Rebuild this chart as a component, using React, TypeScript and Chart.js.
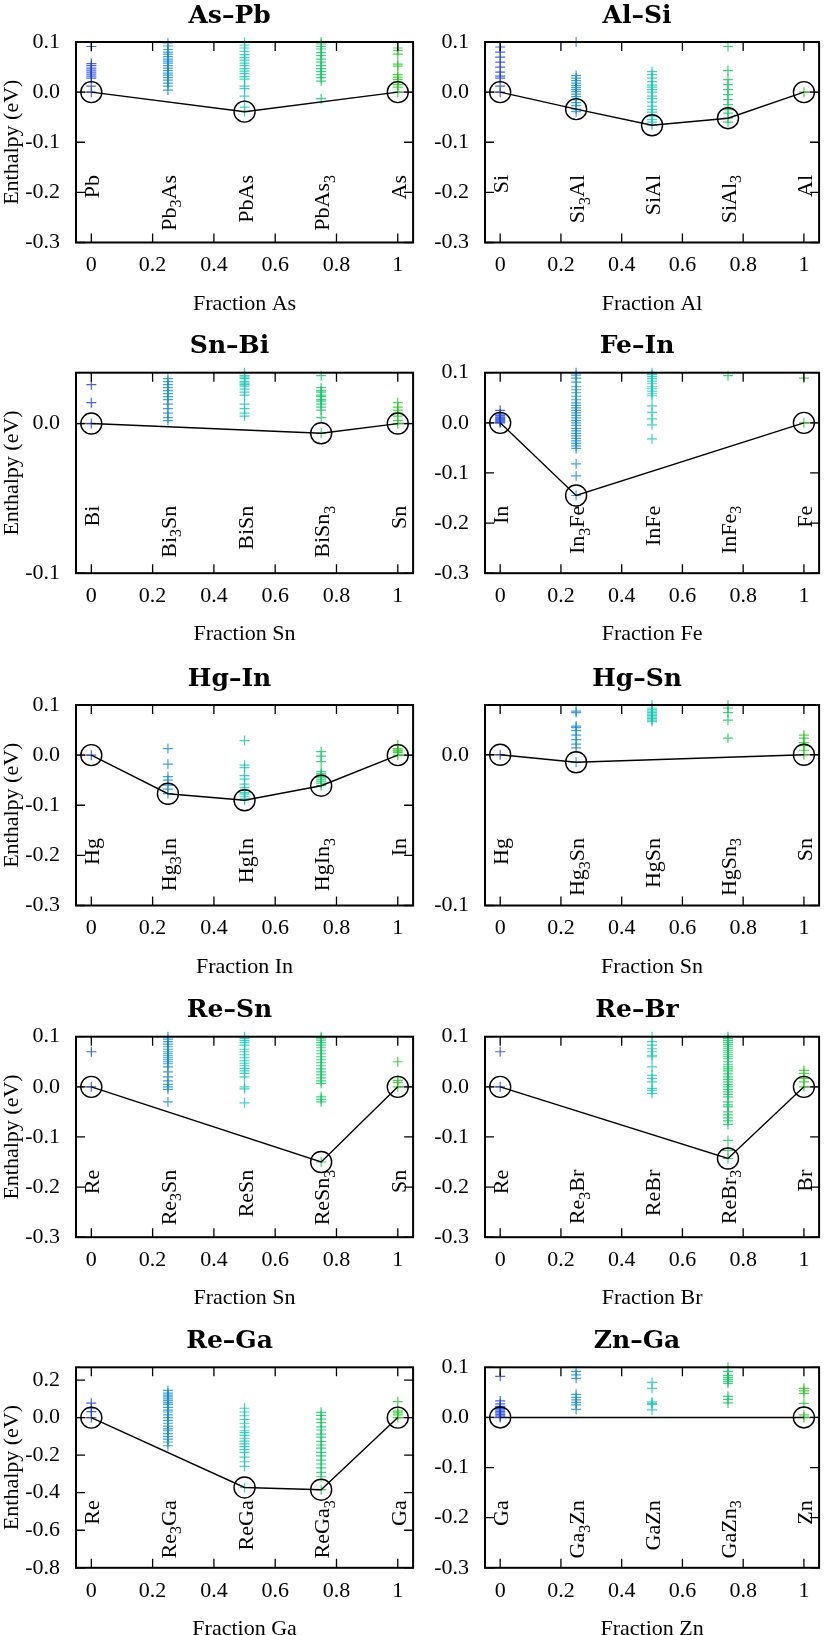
import React, { useEffect, useRef } from "react";
import { Chart, registerables } from "chart.js";

Chart.register(...registerables);

// ---------- shared axis data ----------
const FRACTIONS = [0, 0.25, 0.5, 0.75, 1];
const X_TICKS = [0, 0.2, 0.4, 0.6, 0.8, 1];
const Y_TICKS_STD = [-0.3, -0.2, -0.1, 0, 0.1];
const Y_TICKS_SMALL = [-0.1, 0];
const Y_TICKS_WIDE = [-0.8, -0.6, -0.4, -0.2, 0, 0.2];
const SERIES_COLORS = [
  "rgba(25,62,215,0.8)",
  "rgba(18,138,210,0.8)",
  "rgba(18,200,178,0.8)",
  "rgba(12,196,98,0.8)",
  "rgba(35,198,28,0.8)",
];

// ---------- As–Pb ----------
const asPbPhases = ["Pb", "Pb_3As", "PbAs", "PbAs_3", "As"];
const asPbE0 = [0.091, 0.057, 0.053, 0.048, 0.044, 0.04, 0.036, 0.032, 0.028, 0.012, 0.0];
const asPbE1 = [0.098, 0.092, 0.085, 0.08, 0.076, 0.071, 0.066, 0.062, 0.058, 0.053, 0.048, 0.043, 0.038, 0.034, 0.029, 0.024, 0.018, 0.012, 0.004];
const asPbE2 = [0.099, 0.094, 0.088, 0.081, 0.075, 0.069, 0.064, 0.058, 0.053, 0.047, 0.042, 0.037, 0.031, 0.026, 0.012, 0.007, -0.008, -0.03, -0.039];
const asPbE3 = [0.1, 0.096, 0.091, 0.086, 0.079, 0.073, 0.066, 0.06, 0.053, 0.047, 0.041, 0.035, 0.029, 0.022, -0.013];
const asPbE4 = [0.088, 0.083, 0.076, 0.056, 0.052, 0.035, 0.03, 0.025, 0.02, 0.015, 0.01, 0.0];
const asPbHull = [[0, 0], [0.5, -0.039], [1, 0]];

// ---------- Al–Si ----------
const alSiPhases = ["Si", "Si_3Al", "SiAl", "SiAl_3", "Al"];
const alSiE0 = [0.09, 0.08, 0.07, 0.06, 0.05, 0.04, 0.032, 0.028, 0.012, 0.0];
const alSiE1 = [0.1, 0.033, 0.028, 0.023, 0.018, 0.013, 0.009, 0.005, 0.001, -0.004, -0.009, -0.015, -0.021, -0.027, -0.034, -0.039];
const alSiE2 = [0.041, 0.035, 0.028, 0.021, 0.014, 0.01, 0.005, 0.0, -0.008, -0.013, -0.02, -0.028, -0.035, -0.04, -0.048, -0.055, -0.06, -0.066];
const alSiE3 = [0.091, 0.043, 0.025, 0.015, 0.005, -0.005, -0.015, -0.025, -0.035, -0.042, -0.052, -0.06];
const alSiE4 = [0.0];
const alSiHull = [[0, 0], [0.25, -0.034], [0.5, -0.066], [0.75, -0.052], [1, 0]];

// ---------- Sn–Bi ----------
const snBiPhases = ["Bi", "Bi_3Sn", "BiSn", "BiSn_3", "Sn"];
const snBiE0 = [0.026, 0.014, 0.0];
const snBiE1 = [0.03, 0.028, 0.026, 0.024, 0.022, 0.02, 0.018, 0.016, 0.013, 0.01, 0.007, 0.004, 0.002];
const snBiE2 = [0.034, 0.032, 0.031, 0.03, 0.028, 0.027, 0.026, 0.025, 0.023, 0.021, 0.019, 0.013, 0.01, 0.007, 0.005];
const snBiE3 = [0.032, 0.024, 0.022, 0.021, 0.019, 0.018, 0.016, 0.015, 0.013, 0.011, 0.009, 0.004, -0.0065];
const snBiE4 = [0.014, 0.011, 0.009, 0.007, 0.005, 0.002, 0.0];
const snBiHull = [[0, 0], [0.75, -0.0065], [1, 0]];

// ---------- Fe–In ----------
const feInPhases = ["In", "In_3Fe", "InFe", "InFe_3", "Fe"];
const feInE0 = [0.025, 0.018, 0.015, 0.012, 0.01, 0.008, 0.006, 0.004, 0.002, 0.0];
const feInE1 = [0.1, 0.095, 0.089, 0.081, 0.072, 0.066, 0.06, 0.053, 0.046, 0.04, 0.035, 0.03, 0.025, 0.02, 0.015, 0.01, 0.005, 0.0, -0.005, -0.011, -0.016, -0.021, -0.026, -0.031, -0.036, -0.041, -0.046, -0.051, -0.082, -0.106, -0.145];
const feInE2 = [0.1, 0.096, 0.092, 0.088, 0.083, 0.078, 0.072, 0.068, 0.063, 0.058, 0.054, 0.034, 0.021, 0.008, -0.004, -0.032];
const feInE3 = [0.094];
const feInE4 = [0.089, 0.0];
const feInHull = [[0, 0], [0.25, -0.145], [1, 0]];

// ---------- Hg–In ----------
const hgInPhases = ["Hg", "Hg_3In", "HgIn", "HgIn_3", "In"];
const hgInE0 = [0.0];
const hgInE1 = [0.013, -0.018, -0.043, -0.05, -0.06, -0.068, -0.077];
const hgInE2 = [0.029, -0.02, -0.025, -0.041, -0.048, -0.058, -0.065, -0.07, -0.075, -0.078, -0.082, -0.086, -0.09];
const hgInE3 = [0.007, -0.002, -0.013, -0.033, -0.037, -0.04, -0.044, -0.048, -0.052, -0.056, -0.061];
const hgInE4 = [0.02, 0.013, 0.01, 0.008, 0.005, 0.0];
const hgInHull = [[0, 0], [0.25, -0.077], [0.5, -0.09], [0.75, -0.061], [1, 0]];

// ---------- Hg–Sn ----------
const hgSnPhases = ["Hg", "Hg_3Sn", "HgSn", "HgSn_3", "Sn"];
const hgSnE0 = [0.0];
const hgSnE1 = [0.029, 0.028, 0.019, 0.018, 0.016, 0.013, 0.01, 0.007, 0.0045, -0.005];
const hgSnE2 = [0.033, 0.031, 0.03, 0.029, 0.028, 0.027, 0.026, 0.025, 0.024, 0.023, 0.022];
const hgSnE3 = [0.033, 0.031, 0.028, 0.023, 0.011];
const hgSnE4 = [0.013, 0.011, 0.008, 0.006, 0.003, 0.0];
const hgSnHull = [[0, 0], [0.25, -0.005], [1, 0]];

// ---------- Re–Sn ----------
const reSnPhases = ["Re", "Re_3Sn", "ReSn", "ReSn_3", "Sn"];
const reSnE0 = [0.07, 0.0];
const reSnE1 = [0.1, 0.095, 0.09, 0.085, 0.08, 0.075, 0.07, 0.066, 0.062, 0.058, 0.054, 0.05, 0.046, 0.04, 0.03, 0.02, 0.012, 0.005, 0.0, -0.005, -0.03];
const reSnE2 = [0.1, 0.096, 0.092, 0.088, 0.083, 0.075, 0.07, 0.064, 0.058, 0.052, 0.047, 0.042, 0.037, 0.032, 0.027, 0.02, 0.0, -0.004, -0.032];
const reSnE3 = [0.1, 0.097, 0.093, 0.088, 0.083, 0.078, 0.072, 0.066, 0.06, 0.054, 0.048, 0.042, 0.036, 0.03, 0.024, 0.018, 0.012, 0.007, -0.02, -0.025, -0.03, -0.15];
const reSnE4 = [0.05, 0.013, 0.009, 0.0];
const reSnHull = [[0, 0], [0.75, -0.15], [1, 0]];

// ---------- Re–Br ----------
const reBrPhases = ["Re", "Re_3Br", "ReBr", "ReBr_3", "Br"];
const reBrE0 = [0.07, 0.0];
const reBrE1: number[] = [];
const reBrE2 = [0.1, 0.09, 0.083, 0.076, 0.07, 0.063, 0.06, 0.04, 0.023, 0.017, 0.01, -0.003, -0.007, -0.013];
const reBrE3 = [0.1, 0.096, 0.092, 0.088, 0.084, 0.08, 0.076, 0.072, 0.068, 0.064, 0.06, 0.056, 0.05, 0.045, 0.04, 0.036, 0.032, 0.026, 0.02, 0.015, 0.01, 0.005, 0.0, -0.005, -0.01, -0.015, -0.02, -0.03, -0.036, -0.04, -0.05, -0.056, -0.062, -0.068, -0.075, -0.107, -0.127, -0.143];
const reBrE4 = [0.033, 0.027, 0.017, 0.01, 0.0];
const reBrHull = [[0, 0], [0.75, -0.143], [1, 0]];

// ---------- Re–Ga ----------
const reGaPhases = ["Re", "Re_3Ga", "ReGa", "ReGa_3", "Ga"];
const reGaE0 = [0.077, 0.05, 0.032, 0.0];
const reGaE1 = [0.145, 0.13, 0.12, 0.11, 0.1, 0.09, 0.08, 0.07, 0.055, 0.04, 0.03, 0.015, 0.0, -0.015, -0.03, -0.045, -0.06, -0.07, -0.085, -0.1, -0.115, -0.13, -0.15];
const reGaE2 = [0.05, 0.03, 0.01, -0.01, -0.03, -0.05, -0.07, -0.08, -0.095, -0.11, -0.125, -0.14, -0.155, -0.17, -0.185, -0.21, -0.235, -0.26, -0.372];
const reGaE3 = [0.028, 0.012, -0.008, -0.027, -0.049, -0.066, -0.088, -0.104, -0.127, -0.146, -0.163, -0.185, -0.204, -0.226, -0.247, -0.268, -0.292, -0.315, -0.384];
const reGaE4 = [0.085, 0.035, 0.025, 0.015, 0.0];
const reGaHull = [[0, 0], [0.5, -0.372], [0.75, -0.384], [1, 0]];

// ---------- Zn–Ga ----------
const znGaPhases = ["Ga", "Ga_3Zn", "GaZn", "GaZn_3", "Zn"];
const znGaE0 = [0.082, 0.033, 0.027, 0.022, 0.018, 0.015, 0.012, 0.009, 0.006, 0.003, 0.0];
const znGaE1 = [0.092, 0.085, 0.078, 0.046, 0.04, 0.035, 0.03, 0.025, 0.016];
const znGaE2 = [0.07, 0.058, 0.031, 0.028, 0.026, 0.015];
const znGaE3 = [0.1, 0.092, 0.084, 0.08, 0.076, 0.072, 0.068, 0.042, 0.036, 0.029];
const znGaE4 = [0.058, 0.053, 0.048, 0.028, 0.005, 0.0];
const znGaHull = [[0, 0], [1, 0]];

type PanelSpec = {
  title: string;
  xLabel: string;
  phases: string[];
  energies: number[][];
  hull: number[][];
  yMin: number;
  yMax: number;
  yTicks: number[];
  row: number;
  col: number;
};

const PANELS: PanelSpec[] = [
  { title: "As\u2013Pb", xLabel: "Fraction As", phases: asPbPhases, energies: [asPbE0, asPbE1, asPbE2, asPbE3, asPbE4], hull: asPbHull, yMin: -0.3, yMax: 0.1, yTicks: Y_TICKS_STD, row: 0, col: 0 },
  { title: "Al\u2013Si", xLabel: "Fraction Al", phases: alSiPhases, energies: [alSiE0, alSiE1, alSiE2, alSiE3, alSiE4], hull: alSiHull, yMin: -0.3, yMax: 0.1, yTicks: Y_TICKS_STD, row: 0, col: 1 },
  { title: "Sn\u2013Bi", xLabel: "Fraction Sn", phases: snBiPhases, energies: [snBiE0, snBiE1, snBiE2, snBiE3, snBiE4], hull: snBiHull, yMin: -0.1, yMax: 0.034, yTicks: Y_TICKS_SMALL, row: 1, col: 0 },
  { title: "Fe\u2013In", xLabel: "Fraction Fe", phases: feInPhases, energies: [feInE0, feInE1, feInE2, feInE3, feInE4], hull: feInHull, yMin: -0.3, yMax: 0.1, yTicks: Y_TICKS_STD, row: 1, col: 1 },
  { title: "Hg\u2013In", xLabel: "Fraction In", phases: hgInPhases, energies: [hgInE0, hgInE1, hgInE2, hgInE3, hgInE4], hull: hgInHull, yMin: -0.3, yMax: 0.1, yTicks: Y_TICKS_STD, row: 2, col: 0 },
  { title: "Hg\u2013Sn", xLabel: "Fraction Sn", phases: hgSnPhases, energies: [hgSnE0, hgSnE1, hgSnE2, hgSnE3, hgSnE4], hull: hgSnHull, yMin: -0.1, yMax: 0.033, yTicks: Y_TICKS_SMALL, row: 2, col: 1 },
  { title: "Re\u2013Sn", xLabel: "Fraction Sn", phases: reSnPhases, energies: [reSnE0, reSnE1, reSnE2, reSnE3, reSnE4], hull: reSnHull, yMin: -0.3, yMax: 0.1, yTicks: Y_TICKS_STD, row: 3, col: 0 },
  { title: "Re\u2013Br", xLabel: "Fraction Br", phases: reBrPhases, energies: [reBrE0, reBrE1, reBrE2, reBrE3, reBrE4], hull: reBrHull, yMin: -0.3, yMax: 0.1, yTicks: Y_TICKS_STD, row: 3, col: 1 },
  { title: "Re\u2013Ga", xLabel: "Fraction Ga", phases: reGaPhases, energies: [reGaE0, reGaE1, reGaE2, reGaE3, reGaE4], hull: reGaHull, yMin: -0.8, yMax: 0.268, yTicks: Y_TICKS_WIDE, row: 4, col: 0 },
  { title: "Zn\u2013Ga", xLabel: "Fraction Zn", phases: znGaPhases, energies: [znGaE0, znGaE1, znGaE2, znGaE3, znGaE4], hull: znGaHull, yMin: -0.3, yMax: 0.1, yTicks: Y_TICKS_STD, row: 4, col: 1 },
];

// ---------- layout ----------
const PLOT_TOPS = [42, 372.7, 705, 1036.7, 1367.3];
const CANVAS_TOPS = [0, 331, 663, 995, 1325];
const CANVAS_HEIGHTS = [331, 332, 332, 330, 310];
const PLOT_H = 200.5;
const COLS = [
  { left: 0, width: 425, plotLeft: 76, plotRight: 421, yLabel: true },
  { left: 425, width: 406, plotLeft: 485, plotRight: 830, yLabel: false },
];
const SERIF = '"Liberation Serif", "Times New Roman", serif';
const MAIN_FONT = `22px ${SERIF}`;
const SUB_FONT = `16px ${SERIF}`;
const TITLE_FONT = 'bold 25px "DejaVu Serif", serif';
const TICK_LEN = 9;

function parseFormula(s: string) {
  const segs: { t: string; sub: boolean }[] = [];
  const re = /_(\d+)|([^_]+)/g;
  let m: RegExpExecArray | null;
  while ((m = re.exec(s))) {
    if (m[1]) segs.push({ t: m[1], sub: true });
    else segs.push({ t: m[2], sub: false });
  }
  return segs;
}

function drawRotatedFormula(ctx: CanvasRenderingContext2D, text: string, x: number, yEnd: number) {
  const segs = parseFormula(text);
  let total = 0;
  const widths = segs.map((s) => {
    ctx.font = s.sub ? SUB_FONT : MAIN_FONT;
    const w = ctx.measureText(s.t).width;
    total += w;
    return w;
  });
  ctx.save();
  ctx.translate(x, yEnd);
  ctx.rotate(-Math.PI / 2);
  ctx.textAlign = "left";
  ctx.textBaseline = "alphabetic";
  ctx.fillStyle = "#000";
  let cx = -total;
  segs.forEach((s, i) => {
    ctx.font = s.sub ? SUB_FONT : MAIN_FONT;
    ctx.fillText(s.t, cx, s.sub ? 13.5 : 8);
    cx += widths[i];
  });
  ctx.restore();
}

function Panel({ spec }: { spec: PanelSpec }) {
  const ref = useRef<HTMLCanvasElement | null>(null);
  const col = COLS[spec.col];
  const canvasTop = CANVAS_TOPS[spec.row];
  const height = CANVAS_HEIGHTS[spec.row];

  useEffect(() => {
    const canvas = ref.current;
    if (!canvas) return;
    const padTop = PLOT_TOPS[spec.row] - canvasTop;
    const xAxisH = height - padTop - PLOT_H;
    const yAxisW = col.plotLeft - col.left;
    const padRight = col.left + col.width - col.plotRight;

    const decor = {
      id: "decor",
      beforeDatasetsDraw(chart: any) {
        const { ctx, chartArea: a, scales } = chart;
        const y0 = scales.y.getPixelForValue(0);
        const x0 = scales.x.getPixelForValue(0);
        const x1 = scales.x.getPixelForValue(1);
        ctx.save();
        ctx.strokeStyle = "#707070";
        ctx.lineWidth = 1.4;
        ctx.beginPath();
        ctx.moveTo(a.left, y0);
        ctx.lineTo(x0, y0);
        ctx.moveTo(x1, y0);
        ctx.lineTo(a.right, y0);
        ctx.stroke();
        ctx.restore();
      },
      afterDatasetsDraw(chart: any) {
        const { ctx, chartArea: a, scales } = chart;
        ctx.save();
        // tick marks (inward, mirrored)
        ctx.strokeStyle = "#000";
        ctx.lineWidth = 1.3;
        ctx.beginPath();
        X_TICKS.forEach((v) => {
          const px = scales.x.getPixelForValue(v);
          ctx.moveTo(px, a.bottom);
          ctx.lineTo(px, a.bottom - TICK_LEN);
          ctx.moveTo(px, a.top);
          ctx.lineTo(px, a.top + TICK_LEN);
        });
        spec.yTicks.forEach((v) => {
          const py = scales.y.getPixelForValue(v);
          ctx.moveTo(a.left, py);
          ctx.lineTo(a.left + TICK_LEN, py);
          ctx.moveTo(a.right, py);
          ctx.lineTo(a.right - TICK_LEN, py);
        });
        ctx.stroke();
        // frame
        ctx.lineWidth = 2;
        ctx.strokeRect(a.left, a.top, a.right - a.left, a.bottom - a.top);

        // phase labels
        spec.phases.forEach((p, i) => {
          const px = scales.x.getPixelForValue(FRACTIONS[i]);
          drawRotatedFormula(ctx, p, px, a.top + 133);
        });

        const cx = (a.left + a.right) / 2;
        ctx.fillStyle = "#000";
        // title
        ctx.font = TITLE_FONT;
        ctx.textAlign = "center";
        ctx.textBaseline = "alphabetic";
        ctx.fillText(spec.title, cx - 15, a.top - 19.5);
        // x label
        ctx.font = MAIN_FONT;
        ctx.fillText(spec.xLabel, cx, a.bottom + 67);
        // y label
        if (col.yLabel) {
          ctx.save();
          ctx.translate(17.5, (a.top + a.bottom) / 2);
          ctx.rotate(-Math.PI / 2);
          ctx.textAlign = "center";
          ctx.fillText("Enthalpy (eV)", 0, 0);
          ctx.restore();
        }
        ctx.restore();
      },
    };

    const scatterSets = spec.energies.map((vals, i) => ({
      type: "scatter" as const,
      data: vals.map((v) => ({ x: FRACTIONS[i], y: v })),
      pointStyle: "cross" as const,
      pointRadius: 5,
      pointBorderWidth: 1.2,
      borderColor: SERIES_COLORS[i],
      backgroundColor: SERIES_COLORS[i],
      showLine: false,
      clip: false as any,
      order: 2,
    }));

    const hullSet = {
      type: "line" as const,
      data: spec.hull.map(([x, y]) => ({ x, y })),
      borderColor: "#000",
      borderWidth: 1.4,
      showLine: true,
      fill: false,
      tension: 0,
      pointStyle: "circle" as const,
      pointRadius: 10.5,
      pointBorderWidth: 1.4,
      pointBorderColor: "#000",
      pointBackgroundColor: "rgba(0,0,0,0)",
      clip: false as any,
      order: 0,
    };

    const font = { family: SERIF, size: 22 };
    const chart = new Chart(canvas, {
      type: "scatter",
      data: { datasets: [hullSet as any, ...scatterSets] },
      options: {
        animation: false,
        responsive: false,
        devicePixelRatio: 1,
        events: [],
        layout: { padding: { top: padTop, left: 0, right: padRight, bottom: 0 } },
        plugins: {
          legend: { display: false },
          tooltip: { enabled: false },
          title: { display: false },
        },
        scales: {
          x: {
            type: "linear",
            min: -0.05,
            max: 1.05,
            afterBuildTicks: (s: any) => {
              s.ticks = X_TICKS.map((v) => ({ value: v }));
            },
            afterFit: (s: any) => {
              s.height = xAxisH;
            },
            grid: { display: false, drawTicks: false },
            border: { display: false },
            ticks: {
              color: "#000",
              font,
              padding: 10,
              maxRotation: 0,
              autoSkip: false,
              callback: (v: any) => {
                const n = Number(v);
                return n === 0 ? "0" : n === 1 ? "1" : n.toFixed(1);
              },
            },
          },
          y: {
            type: "linear",
            min: spec.yMin,
            max: spec.yMax,
            afterBuildTicks: (s: any) => {
              s.ticks = spec.yTicks.map((v) => ({ value: v }));
            },
            afterFit: (s: any) => {
              s.width = yAxisW;
            },
            grid: { display: false, drawTicks: false },
            border: { display: false },
            ticks: {
              color: "#000",
              font,
              padding: 16,
              autoSkip: false,
              callback: (v: any) => {
                const n = Number(v);
                return Math.abs(n) < 1e-9 ? "0.0" : n.toFixed(1);
              },
            },
          },
        },
      } as any,
      plugins: [decor as any],
    });
    return () => chart.destroy();
  }, []);

  return (
    <canvas
      ref={ref}
      width={col.width}
      height={height}
      style={{ position: "absolute", left: col.left, top: canvasTop, width: col.width, height }}
    />
  );
}

export default function App() {
  return (
    <div
      style={{
        position: "absolute",
        left: 0,
        top: 0,
        width: 831,
        height: 1635,
        background: "#fff",
        overflow: "hidden",
      }}
    >
      {PANELS.map((p, i) => (
        <Panel key={i} spec={p} />
      ))}
    </div>
  );
}
